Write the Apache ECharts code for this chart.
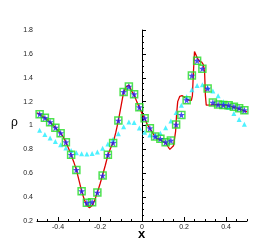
<!DOCTYPE html>
<html>
<head>
<meta charset="utf-8">
<script src="https://cdn.jsdelivr.net/npm/echarts@6/dist/echarts.min.js"></script>
<style>
html,body{margin:0;padding:0;background:#fff;}
#c{width:280px;height:249px;}
</style>
</head>
<body>
<div id="c"></div>
<script>
// cell centres
var xCenters = [-0.4875,-0.4625,-0.4375,-0.4125,-0.3875,-0.3625,-0.3375,-0.3125,-0.2875,-0.2625,
  -0.2375,-0.2125,-0.1875,-0.1625,-0.1375,-0.1125,-0.0875,-0.0625,-0.0375,-0.0125,
  0.0125,0.0375,0.0625,0.0875,0.1125,0.1375,0.1625,0.1875,0.2125,0.2375,
  0.2625,0.2875,0.3125,0.3375,0.3625,0.3875,0.4125,0.4375,0.4625,0.4875];
// green squares
var rhoSquare = [1.095,1.064,1.028,0.982,0.936,0.860,0.754,0.628,0.450,0.352,
  0.358,0.438,0.581,0.754,0.854,1.041,1.281,1.326,1.262,1.153,
  1.061,0.977,0.907,0.888,0.860,0.874,1.008,1.089,1.212,1.418,
  1.543,1.476,1.309,1.192,1.175,1.172,1.170,1.158,1.145,1.128];
// blue stars
var rhoStar = [1.095,1.064,1.028,0.982,0.936,0.860,0.754,0.628,0.450,0.352,
  0.358,0.438,0.581,0.754,0.854,1.041,1.281,1.326,1.262,1.153,
  1.061,0.977,0.907,0.888,0.860,0.874,1.008,1.089,1.212,1.418,
  1.543,1.476,1.309,1.192,1.175,1.172,1.170,1.158,1.145,1.128];
// cyan triangles
var rhoTri = [0.960,0.925,0.895,0.865,0.838,0.812,0.790,0.772,0.763,0.762,
  0.766,0.778,0.810,0.845,0.885,0.930,0.990,1.030,1.025,0.980,
  0.943,0.921,0.921,0.935,0.982,1.038,1.108,1.170,1.240,1.300,
  1.335,1.342,1.320,1.290,1.250,1.200,1.150,1.100,1.050,1.010];
// reference (red line)
var refX = [-0.5,-0.4875,-0.475,-0.4625,-0.45,-0.4375,-0.425,-0.4125,-0.4,-0.3875,
  -0.375,-0.3625,-0.35,-0.3375,-0.325,-0.3125,-0.3,-0.2875,-0.275,-0.2625,
  -0.25,-0.2375,-0.225,-0.2125,-0.2,-0.1875,-0.175,-0.1625,-0.15,-0.1375,
  -0.125,-0.1125,-0.1,-0.0875,-0.075,-0.0625,-0.05,-0.0375,-0.025,-0.0125,
  0,0.0125,0.025,0.0375,0.05,0.0625,0.075,0.0875,0.1,0.1125,
  0.125,0.1325,0.14,0.15,0.16,0.165,0.17,0.18,0.19,0.2,
  0.21,0.225,0.235,0.24,0.245,0.25,0.255,0.265,0.275,0.285,
  0.292,0.298,0.302,0.306,0.315,0.33,0.35,0.375,0.4,0.425,
  0.45,0.475,0.5];
var refRho = [1.105,1.095,1.080,1.064,1.048,1.028,1.006,0.982,0.960,0.936,
  0.905,0.860,0.810,0.754,0.695,0.628,0.540,0.450,0.380,0.330,
  0.312,0.330,0.375,0.440,0.510,0.585,0.665,0.750,0.810,0.855,
  0.940,1.040,1.160,1.280,1.325,1.340,1.290,1.255,1.200,1.150,
  1.100,1.058,1.010,0.975,0.940,0.905,0.885,0.880,0.865,0.855,
  0.820,0.800,0.800,0.830,0.950,1.100,1.200,1.245,1.250,1.240,
  1.225,1.210,1.210,1.250,1.450,1.620,1.610,1.560,1.535,1.530,
  1.510,1.450,1.250,1.170,1.165,1.172,1.175,1.172,1.168,1.158,
  1.145,1.130,1.115];
var xTickLabels = [-0.4,-0.2,0,0.2,0.4];
var yTickLabels = [0.2,0.4,0.6,0.8,1.0,1.2,1.4,1.6,1.8];

function pairs(xs, ys){ return xs.map(function(x,i){ return [x, ys[i]]; }); }
function fmt(v){ return String(Math.round(v*10)/10); }

var starPath = 'path://M0,-10L2.35,-3.24L9.51,-3.09L3.8,1.24L5.88,8.09L0,4L-5.88,8.09L-3.8,1.24L-9.51,-3.09L-2.35,-3.24Z';
var font = 'Liberation Sans, Arial, sans-serif';

var chart = echarts.init(document.getElementById('c'), null, {renderer:'canvas'});
chart.setOption({
  animation:false,
  backgroundColor:'#fff',
  grid:{left:37, right:33, top:30, bottom:28, containLabel:false},
  graphic:[
    {type:'text', left:11, top:117, style:{text:'\u03c1', font:'12px ' + font, fill:'#000'}},
    {type:'text', left:138, top:228, style:{text:'x', font:'bold 13px ' + font, fill:'#000'}}
  ],
  xAxis:[{
    type:'value', min:-0.5, max:0.5,
    axisLine:{show:true, lineStyle:{color:'#000', width:1}},
    axisTick:{show:true, inside:true, length:4, customValues:xTickLabels, lineStyle:{color:'#000'}},
    axisLabel:{show:true, customValues:xTickLabels, margin:3, hideOverlap:false, formatter:fmt, fontFamily:font, fontSize:7, color:'#222'},
    splitLine:{show:false}
  },{
    type:'value', min:-0.5, max:0.5, interval:0.05, position:'bottom',
    axisLine:{show:false},
    axisTick:{show:true, inside:true, length:2, lineStyle:{color:'#000'}},
    axisLabel:{show:false},
    splitLine:{show:false}
  }],
  yAxis:[{
    type:'value', min:0.2, max:1.8,
    axisLine:{show:true, lineStyle:{color:'#000', width:1}},
    axisTick:{show:true, inside:true, length:4, customValues:yTickLabels, lineStyle:{color:'#000'}},
    axisLabel:{show:true, margin:4, customValues:yTickLabels, hideOverlap:false, formatter:fmt, fontFamily:font, fontSize:7, color:'#222'},
    splitLine:{show:false}
  },{
    type:'value', min:0.2, max:1.8, interval:0.05, position:'left',
    axisLine:{show:false},
    axisTick:{show:true, inside:true, length:2, lineStyle:{color:'#000'}},
    axisLabel:{show:false},
    splitLine:{show:false}
  }],
  series:[{
    type:'line', data:pairs(refX, refRho), showSymbol:false, symbol:'none',
    lineStyle:{color:'#dd0000', width:1.3}, z:2
  },{
    type:'scatter', data:pairs(xCenters, rhoTri), symbol:'triangle', symbolSize:5,
    itemStyle:{color:'#22eeff'}, z:3
  },{
    type:'scatter', data:pairs(xCenters, rhoSquare), symbol:'rect', symbolSize:7,
    itemStyle:{color:'rgba(0,0,0,0)', borderColor:'#22dd22', borderWidth:1.5}, z:4
  },{
    type:'scatter', data:pairs(xCenters, rhoStar), symbol:starPath, symbolSize:7,
    itemStyle:{color:'#2020ee'}, z:5
  }]
});
</script>
</body>
</html>
